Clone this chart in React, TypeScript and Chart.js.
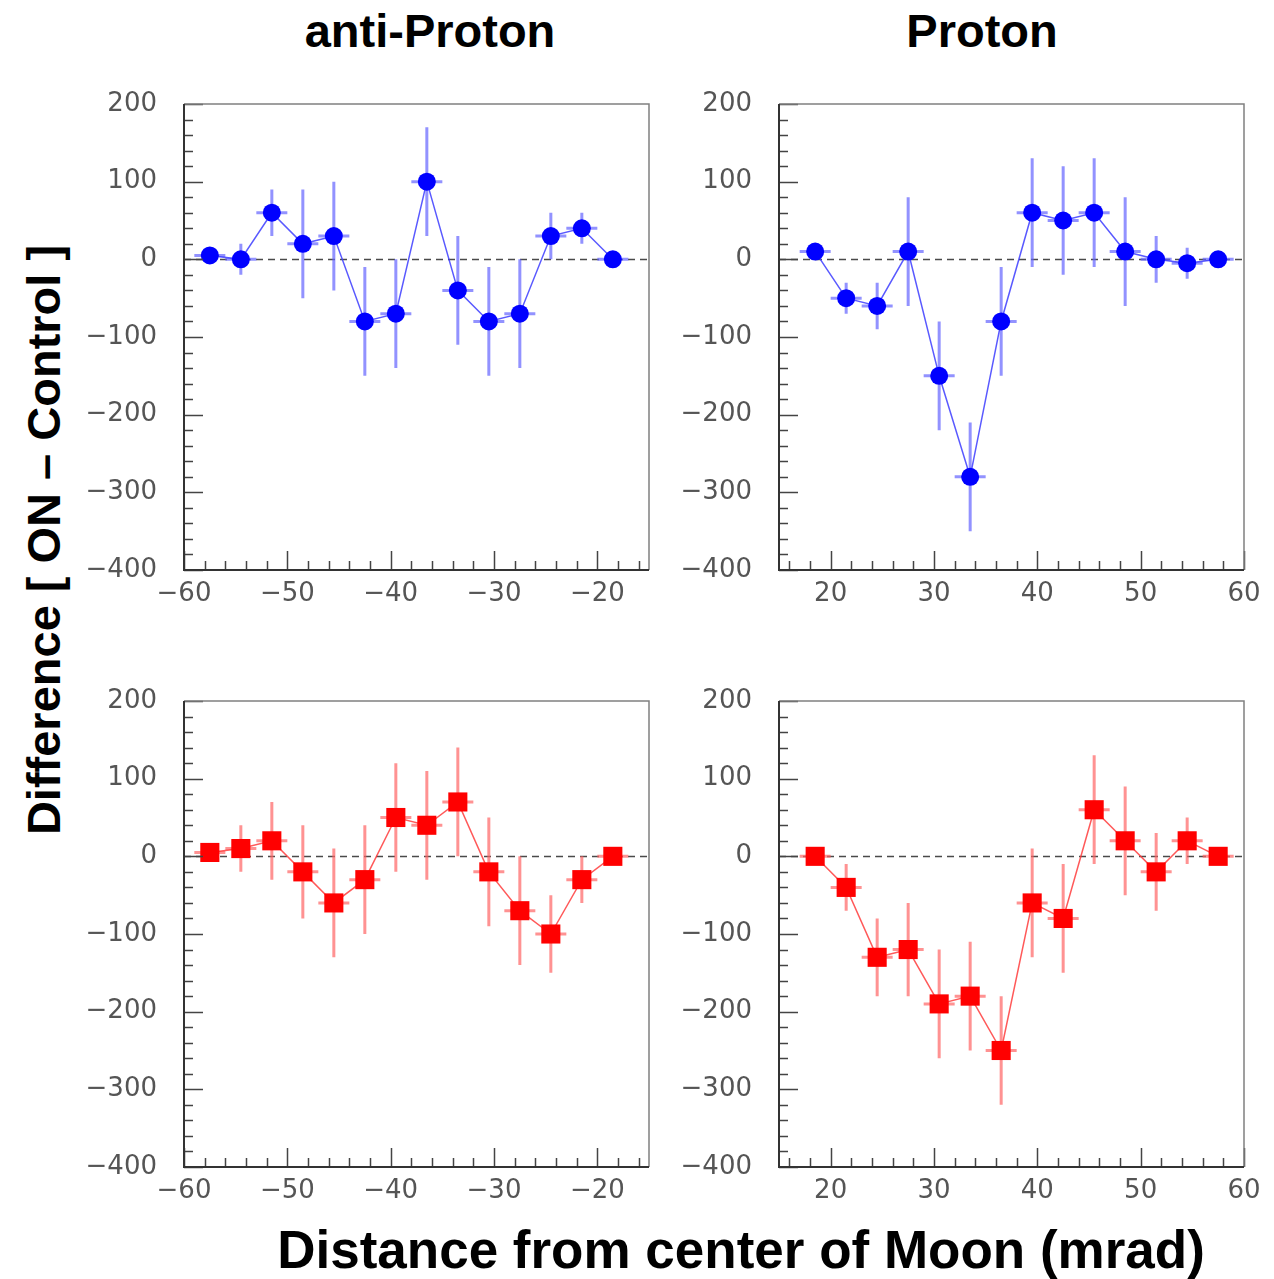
import React, { useEffect, useRef } from 'react';
import { Chart, registerables } from 'chart.js';

Chart.register(...registerables);

// ---------- data ----------
const antiProtonBins = [-57.5, -54.5, -51.5, -48.5, -45.5, -42.5, -39.5, -36.5, -33.5, -30.5, -27.5, -24.5, -21.5, -18.5];
const protonBins = [18.5, 21.5, 24.5, 27.5, 30.5, 33.5, 36.5, 39.5, 42.5, 45.5, 48.5, 51.5, 54.5, 57.5];
const binHalfWidth = 1.5;

const antiProtonTopValues = [5, 0, 60, 20, 30, -80, -70, 100, -40, -80, -70, 30, 40, 0];
const antiProtonTopErrors = [8, 20, 30, 70, 70, 70, 70, 70, 70, 70, 70, 30, 20, 8];

const protonTopValues = [10, -50, -60, 10, -150, -280, -80, 60, 50, 60, 10, 0, -5, 0];
const protonTopErrors = [8, 20, 30, 70, 70, 70, 70, 70, 70, 70, 70, 30, 20, 8];

const antiProtonBottomValues = [5, 10, 20, -20, -60, -30, 50, 40, 70, -20, -70, -100, -30, 0];
const antiProtonBottomErrors = [8, 30, 50, 60, 70, 70, 70, 70, 70, 70, 70, 50, 30, 8];

const protonBottomValues = [0, -40, -130, -120, -190, -180, -250, -60, -80, 60, 20, -20, 20, 0];
const protonBottomErrors = [8, 30, 50, 60, 70, 70, 70, 70, 70, 70, 70, 50, 30, 8];

const yTickValues = [-400, -300, -200, -100, 0, 100, 200];
const yRange = [-400, 200];
const antiProtonXTicks = [-60, -50, -40, -30, -20];
const antiProtonXRange = [-60, -15];
const protonXTicks = [20, 30, 40, 50, 60];
const protonXRange = [15, 60];

const columnTitles = ['anti-Proton', 'Proton'];
const yAxisTitle = 'Difference [ ON \u2013 Control ]';
const xAxisTitle = 'Distance from center of Moon (mrad)';

// ---------- layout ----------
const PLOT_W = 465;
const PLOT_H = 466;
const M_LEFT = 100;
const M_TOP = 50;
const M_RIGHT = 30;
const M_BOTTOM = 50;

const fmt = (v: number) => (v < 0 ? '\u2212' + Math.abs(v) : String(v));

function makeRootPlugin(errors: number[], errColor: string, majorX: number[], xMinorStep: number, yMinorStep: number) {
  return {
    id: 'rootStyle',
    beforeDatasetsDraw(chart: any) {
      const { ctx, chartArea: a, scales } = chart;
      const x = scales.x;
      const y = scales.y;
      ctx.save();
      // zero dashed line
      ctx.strokeStyle = '#4a4a4a';
      ctx.lineWidth = 1.5;
      ctx.setLineDash([7, 5]);
      const y0 = Math.round(y.getPixelForValue(0)) + 0.5;
      ctx.beginPath();
      ctx.moveTo(a.left, y0);
      ctx.lineTo(a.right, y0);
      ctx.stroke();
      ctx.setLineDash([]);
      // error bars
      const ds = chart.data.datasets[0];
      ctx.strokeStyle = errColor;
      ctx.lineWidth = 3;
      ds.data.forEach((p: any, i: number) => {
        const e = errors[i];
        const px = x.getPixelForValue(p.x);
        const py = y.getPixelForValue(p.y);
        ctx.beginPath();
        ctx.moveTo(px, y.getPixelForValue(p.y - e));
        ctx.lineTo(px, y.getPixelForValue(p.y + e));
        ctx.moveTo(x.getPixelForValue(p.x - binHalfWidth), py);
        ctx.lineTo(x.getPixelForValue(p.x + binHalfWidth), py);
        ctx.stroke();
      });
      ctx.restore();
    },
    afterDatasetsDraw(chart: any) {
      const { ctx, chartArea: a, scales } = chart;
      const x = scales.x;
      const y = scales.y;
      ctx.save();
      // ticks
      ctx.strokeStyle = '#444';
      ctx.lineWidth = 1.5;
      ctx.beginPath();
      for (let v = y.min; v <= y.max + 1e-9; v += yMinorStep) {
        const py = Math.round(y.getPixelForValue(v)) + 0.5;
        const major = yTickValues.includes(Math.round(v));
        ctx.moveTo(a.left, py);
        ctx.lineTo(a.left + (major ? 19 : 9), py);
      }
      const start = Math.ceil(x.min / xMinorStep) * xMinorStep;
      for (let v = start; v <= x.max + 1e-9; v += xMinorStep) {
        const px = Math.round(x.getPixelForValue(v)) + 0.5;
        const major = majorX.includes(Math.round(v));
        ctx.moveTo(px, a.bottom);
        ctx.lineTo(px, a.bottom - (major ? 19 : 9));
      }
      ctx.stroke();
      // frame
      ctx.strokeStyle = '#808080';
      ctx.lineWidth = 1.5;
      ctx.beginPath();
      ctx.moveTo(a.left, a.top);
      ctx.lineTo(a.right, a.top);
      ctx.lineTo(a.right, a.bottom);
      ctx.stroke();
      ctx.strokeStyle = '#333';
      ctx.lineWidth = 2;
      ctx.beginPath();
      ctx.moveTo(a.left, a.top);
      ctx.lineTo(a.left, a.bottom);
      ctx.lineTo(a.right, a.bottom);
      ctx.stroke();
      ctx.restore();
    },
  };
}

type PanelProps = {
  left: number;
  top: number;
  bins: number[];
  values: number[];
  errors: number[];
  xTicks: number[];
  xRange: number[];
  color: string;
  lineColor: string;
  errColor: string;
  pointStyle: string;
  pointRadius: number;
};

function Panel(props: PanelProps) {
  const ref = useRef<HTMLCanvasElement>(null);
  useEffect(() => {
    if (!ref.current) return;
    const p = props;
    const tickFont = { family: 'DejaVu Sans', size: 26 };
    const chart = new Chart(ref.current, {
      type: 'line',
      data: {
        datasets: [
          {
            data: p.bins.map((b, i) => ({ x: b, y: p.values[i] })),
            borderColor: p.lineColor,
            borderWidth: 1.5,
            pointStyle: p.pointStyle as any,
            pointRadius: p.pointRadius,
            pointBackgroundColor: p.color,
            pointBorderColor: p.color,
            pointBorderWidth: 0,
            tension: 0,
            fill: false,
          },
        ],
      },
      options: {
        responsive: false,
        animation: false,
        events: [],
        layout: { padding: { left: 0, top: M_TOP, right: M_RIGHT, bottom: 0 } },
        plugins: { legend: { display: false }, tooltip: { enabled: false } },
        scales: {
          x: {
            type: 'linear',
            min: p.xRange[0],
            max: p.xRange[1],
            grid: { display: false, drawTicks: false },
            border: { display: false },
            afterBuildTicks: (scale: any) => {
              scale.ticks = p.xTicks.map((v) => ({ value: v }));
            },
            afterFit: (scale: any) => {
              scale.height = M_BOTTOM;
            },
            ticks: {
              autoSkip: false,
              maxRotation: 0,
              minRotation: 0,
              padding: 9,
              color: '#555',
              font: tickFont,
              callback: (v: any) => fmt(Number(v)),
            },
          },
          y: {
            type: 'linear',
            min: yRange[0],
            max: yRange[1],
            grid: { display: false, drawTicks: false },
            border: { display: false },
            afterBuildTicks: (scale: any) => {
              scale.ticks = yTickValues.map((v) => ({ value: v }));
            },
            afterFit: (scale: any) => {
              scale.width = M_LEFT;
            },
            ticks: {
              autoSkip: false,
              padding: 27,
              color: '#555',
              font: tickFont,
              callback: (v: any) => fmt(Number(v)),
            },
          },
        },
      },
      plugins: [makeRootPlugin(p.errors, p.errColor, p.xTicks, 2, 20)],
    });
    return () => chart.destroy();
  }, []);
  return (
    <canvas
      ref={ref}
      width={PLOT_W + M_LEFT + M_RIGHT}
      height={PLOT_H + M_TOP + M_BOTTOM}
      style={{ position: 'absolute', left: props.left - M_LEFT, top: props.top - M_TOP }}
    />
  );
}

const blue = { color: '#0000ff', lineColor: 'rgba(60,60,255,0.85)', errColor: 'rgba(100,100,255,0.7)', pointStyle: 'circle', pointRadius: 9 };
const red = { color: '#ff0000', lineColor: 'rgba(255,60,60,0.85)', errColor: 'rgba(255,100,100,0.7)', pointStyle: 'rect', pointRadius: 13.5 };

export default function App() {
  const titleFont = { fontFamily: '"Liberation Sans", Arial, sans-serif', fontWeight: 700, color: '#000', lineHeight: 1, whiteSpace: 'nowrap' as const, position: 'absolute' as const };
  return (
    <div style={{ position: 'absolute', left: 0, top: 0, width: 1274, height: 1279, background: '#fff', overflow: 'hidden' }}>
      <div style={{ ...titleFont, fontSize: 47, left: 430, top: 7, transform: 'translateX(-50%)' }}>{columnTitles[0]}</div>
      <div style={{ ...titleFont, fontSize: 47, left: 982, top: 7, transform: 'translateX(-50%)' }}>{columnTitles[1]}</div>
      <div style={{ ...titleFont, fontSize: 47, left: 43, top: 540, transform: 'translate(-50%, -50%) rotate(-90deg)' }}>{yAxisTitle}</div>
      <div style={{ ...titleFont, fontSize: 53, left: 741, top: 1223, transform: 'translateX(-50%)' }}>{xAxisTitle}</div>
      <Panel left={184} top={104} bins={antiProtonBins} values={antiProtonTopValues} errors={antiProtonTopErrors} xTicks={antiProtonXTicks} xRange={antiProtonXRange} {...blue} />
      <Panel left={779} top={104} bins={protonBins} values={protonTopValues} errors={protonTopErrors} xTicks={protonXTicks} xRange={protonXRange} {...blue} />
      <Panel left={184} top={701} bins={antiProtonBins} values={antiProtonBottomValues} errors={antiProtonBottomErrors} xTicks={antiProtonXTicks} xRange={antiProtonXRange} {...red} />
      <Panel left={779} top={701} bins={protonBins} values={protonBottomValues} errors={protonBottomErrors} xTicks={protonXTicks} xRange={protonXRange} {...red} />
    </div>
  );
}
